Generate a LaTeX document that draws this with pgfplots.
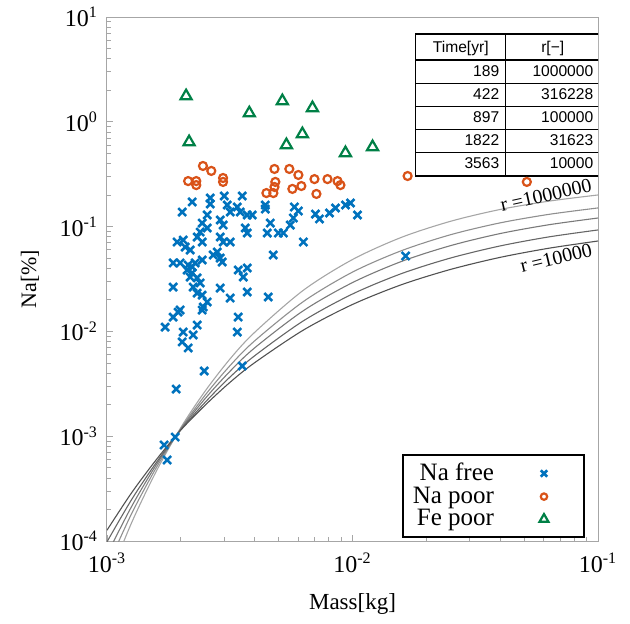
\documentclass[border=0pt]{standalone}
\usepackage{fontspec}
\setmainfont{Liberation Serif}
\newfontfamily\tabfont{Liberation Sans}
\usepackage{array}
\usepackage{pgfplots}
\pgfplotsset{compat=1.18}

\definecolor{nafree}{RGB}{0,114,189}
\definecolor{napoor}{RGB}{217,83,25}
\definecolor{fepoor}{RGB}{0,128,70}

\newcommand{\rs}{\rule[-3pt]{0pt}{11pt}}
\newcommand{\hs}{\rule[-3.5pt]{0pt}{12pt}}

\begin{document}
\begin{tikzpicture}
\begin{axis}[
    scale only axis,
    width=245.5pt, height=262pt,
    xmode=log, ymode=log,
    xmin=1e-3, xmax=1e-1,
    ymin=1e-4, ymax=10,
    xtick={1e-3,1e-2,1e-1},
    xticklabels={10\textsuperscript{-3},10\textsuperscript{-2},10\textsuperscript{-1}},
    ytick={1e-4,1e-3,1e-2,1e-1,1,10},
    yticklabels={10\textsuperscript{-4},10\textsuperscript{-3},10\textsuperscript{-2},10\textsuperscript{-1},10\textsuperscript{0},10\textsuperscript{1}},
    minor xtick={2e-3,3e-3,4e-3,5e-3,6e-3,7e-3,8e-3,9e-3,2e-2,3e-2,4e-2,5e-2,6e-2,7e-2,8e-2,9e-2},
    minor ytick={2e-4,3e-4,4e-4,5e-4,6e-4,7e-4,8e-4,9e-4,2e-3,3e-3,4e-3,5e-3,6e-3,7e-3,8e-3,9e-3,
                 2e-2,3e-2,4e-2,5e-2,6e-2,7e-2,8e-2,9e-2,0.2,0.3,0.4,0.5,0.6,0.7,0.8,0.9,2,3,4,5,6,7,8,9},
    tick pos=left,
    tick align=inside,
    major tick length=3pt,
    minor tick length=1.8pt,
    tick style={gray!70, line width=0.4pt},
    axis line style={gray!70, line width=0.5pt},
    ticklabel style={font=\fontsize{12}{14}\selectfont},
    xticklabel style={yshift=-2.5pt},
    yticklabel style={xshift=-1pt},
    xlabel={Mass[kg]},
    ylabel={Na[\%]},
    xlabel style={at={(axis description cs:0.5,-0.12)}, anchor=center, font=\fontsize{11.5}{13}\selectfont},
    ylabel style={at={(axis description cs:-0.157,0.5)}, anchor=center, font=\fontsize{11}{13}\selectfont},
    legend plot pos=right,
    legend cell align=right,
    legend image code/.code={%
        \path[draw=none] (0pt,0pt) -- (30pt,0pt);
        \draw[only marks, mark options={scale=0.8}] plot coordinates {(13pt,0pt)};},
    legend style={at={(0.9735,0.006)}, anchor=south east, draw=black, line width=1pt,
        font=\fontsize{12.5}{13}\selectfont, inner xsep=3pt, inner ysep=2pt, row sep=-2.4pt,
        /tikz/every odd column/.append style={column sep=10pt}},
]
% model curves, r = 1e6 (light) ... 1e4 (dark)
\addplot[black!35, line width=0.55pt, smooth, forget plot] coordinates {
 (0.001,3.98e-5) (0.001259,1.49e-4) (0.001585,4.59e-4) (0.001995,1.20e-3)
 (0.002512,2.70e-3) (0.003162,5.42e-3) (0.003981,9.72e-3) (0.00631,0.02472)
 (0.01,0.04853) (0.01585,0.0791) (0.02512,0.1125) (0.03981,0.1455)
 (0.0631,0.175) (0.1,0.2004)};
\addplot[black!44, line width=0.55pt, smooth, forget plot] coordinates {
 (0.001,5.60e-5) (0.001259,1.82e-4) (0.001585,4.97e-4) (0.001995,1.175e-3)
 (0.002512,2.47e-3) (0.003162,4.68e-3) (0.003981,8.07e-3) (0.00631,0.01928)
 (0.01,0.03681) (0.01585,0.0590) (0.02512,0.08375) (0.03981,0.1084)
 (0.0631,0.1309) (0.1,0.1507)};
\addplot[black!52, line width=0.55pt, smooth, forget plot] coordinates {
 (0.001,7.43e-5) (0.001259,2.13e-4) (0.001585,5.30e-4) (0.001995,1.159e-3)
 (0.002512,2.29e-3) (0.003162,4.14e-3) (0.003981,6.92e-3) (0.00631,0.01578)
 (0.01,0.02924) (0.01585,0.04656) (0.02512,0.0659) (0.03981,0.0857)
 (0.0631,0.1042) (0.1,0.1208)};
\addplot[black!60, line width=0.55pt, smooth, forget plot] coordinates {
 (0.001,9.82e-5) (0.001259,2.48e-4) (0.001585,5.57e-4) (0.001995,1.148e-3)
 (0.002512,2.11e-3) (0.003162,3.65e-3) (0.003981,5.82e-3) (0.00631,0.01262)
 (0.01,0.02275) (0.01585,0.03565) (0.02512,0.0502) (0.03981,0.0653)
 (0.0631,0.0798) (0.1,0.0929)};
\addplot[black!68, line width=0.55pt, smooth, forget plot] coordinates {
 (0.001,1.268e-4) (0.001259,2.88e-4) (0.001585,5.94e-4) (0.001995,1.138e-3)
 (0.002512,1.98e-3) (0.003162,3.25e-3) (0.003981,5.00e-3) (0.00631,0.0103)
 (0.01,0.01807) (0.01585,0.02793) (0.02512,0.03908) (0.03981,0.0508)
 (0.0631,0.0622) (0.1,0.0729)};

% Na free
\addplot[only marks, mark=x, mark size=2.8pt, color=nafree, line width=1.3pt] coordinates {
 (2.024e-3,0.1377) (2.223e-3,0.1718) (2.632e-3,0.1875) (2.632e-3,0.1644)
 (3.003e-3,0.196) (3.088e-3,0.1607) (3.177e-3,0.1377) (3.556e-3,0.196)
 (3.394e-3,0.1538) (3.491e-3,0.1377) (3.728e-3,0.1291) (3.907e-3,0.1291)
 (4.415e-3,0.1607) (4.415e-3,0.1472) (5.798e-3,0.1538) (6.019e-3,0.1409)
 (7.063e-3,0.1318) (7.333e-3,0.1183) (8.056e-3,0.1349) (8.523e-3,0.1505)
 (9.363e-3,0.1607) (9.813e-3,0.168) (1.048e-2,0.1291) (5.743e-3,0.1208)
 (5.583e-3,0.1035) (5.228e-3,0.0869) (4.989e-3,0.0869) (4.627e-3,0.1081)
 (4.499e-3,0.0869) (6.310e-3,0.0713) (4.759e-3,0.0536) (3.659e-3,0.0970)
 (3.728e-3,0.0869) (2.892e-3,0.1156) (2.974e-3,0.1035) (2.559e-3,0.1291)
 (2.442e-3,0.1081) (2.559e-3,0.0970) (2.397e-3,0.0887) (2.330e-3,0.0796)
 (2.442e-3,0.0713) (1.931e-3,0.0713) (2.043e-3,0.0745) (2.082e-3,0.0638)
 (2.182e-3,0.0598) (2.892e-3,0.0796) (2.974e-3,0.0713) (3.177e-3,0.0713)
 (2.812e-3,0.0573) (2.707e-3,0.0536) (2.892e-3,0.0501) (2.947e-3,0.0459)
 (1.860e-3,0.0450) (1.986e-3,0.0450) (2.141e-3,0.0430) (2.287e-3,0.0450)
 (2.442e-3,0.0480) (2.121e-3,0.0385) (2.182e-3,0.0330) (2.330e-3,0.0324)
 (2.397e-3,0.0290) (3.425e-3,0.0385) (3.728e-3,0.0403) (3.590e-3,0.0330)
 (1.860e-3,0.0265) (2.244e-3,0.0265) (2.330e-3,0.0232) (2.442e-3,0.0222)
 (2.892e-3,0.0259) (3.177e-3,0.0208) (3.728e-3,0.0238) (4.541e-3,0.0213)
 (2.559e-3,0.0191) (2.465e-3,0.0171) (2.442e-3,0.0160) (1.986e-3,0.0160)
 (1.860e-3,0.0137) (1.725e-3,0.0110) (2.043e-3,0.00986) (2.024e-3,0.00793)
 (2.141e-3,0.00695) (2.244e-3,0.00925) (2.330e-3,0.0115) (3.425e-3,0.0137)
 (3.394e-3,0.00986) (2.488e-3,0.00419) (3.556e-3,0.00468) (1.913e-3,0.00282)
 (1.709e-3,0.000824) (1.895e-3,0.000982) (1.758e-3,0.000593) (1.646e-2,0.0524)
 (2.223e-3,0.0412) (2.223e-3,0.0361) (1.949e-3,0.0153)};
\addlegendentry{Na free}

% Na poor
\addplot[only marks, mark=o, mark size=2pt, color=napoor, line width=1.1pt] coordinates {
 (0.00246,0.379) (0.00266,0.340) (0.00214,0.272) (0.00231,0.272) (0.00231,0.249)
 (0.00297,0.291) (0.00297,0.267) (0.00481,0.355) (0.00553,0.355) (0.00602,0.311)
 (0.00485,0.267) (0.00481,0.239) (0.00446,0.209) (0.00476,0.209) (0.00569,0.229)
 (0.00619,0.244) (0.0070,0.284) (0.00791,0.284) (0.00869,0.272) (0.00893,0.249)
 (0.00713,0.205) (0.01677,0.304) (0.0513,0.267)};
\addlegendentry{Na poor}

% Fe poor
\addplot[only marks, mark=triangle, mark size=3.2pt, color=fepoor, line width=1.1pt] coordinates {
 (0.0021,1.76) (0.00216,0.641) (0.0038,1.21) (0.00518,1.579) (0.00538,0.601)
 (0.00625,0.765) (0.00687,1.355) (0.00936,0.504) (0.01207,0.575)};
\addlegendentry{Fe poor}

\node[rotate=12.5, font=\fontsize{10}{12}\selectfont] at (axis cs:0.0614,0.2) {r =1000000};
\node[rotate=13.5, font=\fontsize{10}{12}\selectfont] at (axis cs:0.0675,0.0501) {r =10000};

\node[anchor=north west, inner sep=0pt, fill=white] at (rel axis cs:0.627,0.971) {%
  \tabfont\fontsize{7.8}{9}\selectfont
  \setlength{\tabcolsep}{3pt}\setlength{\arrayrulewidth}{0.5pt}%
  \begin{tabular}{|wr{38.5pt}|wr{40.5pt}|}
  \noalign{\hrule height 1.2pt}
  \multicolumn{1}{|c|}{\hs Time[yr]} & \multicolumn{1}{c|}{r[−]} \\
  \noalign{\hrule height 0.9pt}
  \rs 189 & 1000000 \\ \hline
  \rs 422 & 316228 \\ \hline
  \rs 897 & 100000 \\ \hline
  \rs 1822 & 31623 \\ \hline
  \rs 3563 & 10000 \\
  \noalign{\hrule height 1.2pt}
  \end{tabular}};

\coordinate (bl) at (rel axis cs:0,0);
\coordinate (tr) at (rel axis cs:1,1);
\end{axis}
\pgfresetboundingbox
\path[use as bounding box] ([xshift=-53.5pt,yshift=-41pt]bl) rectangle ([xshift=16pt,yshift=8.5pt]tr);
\end{tikzpicture}
\end{document}
